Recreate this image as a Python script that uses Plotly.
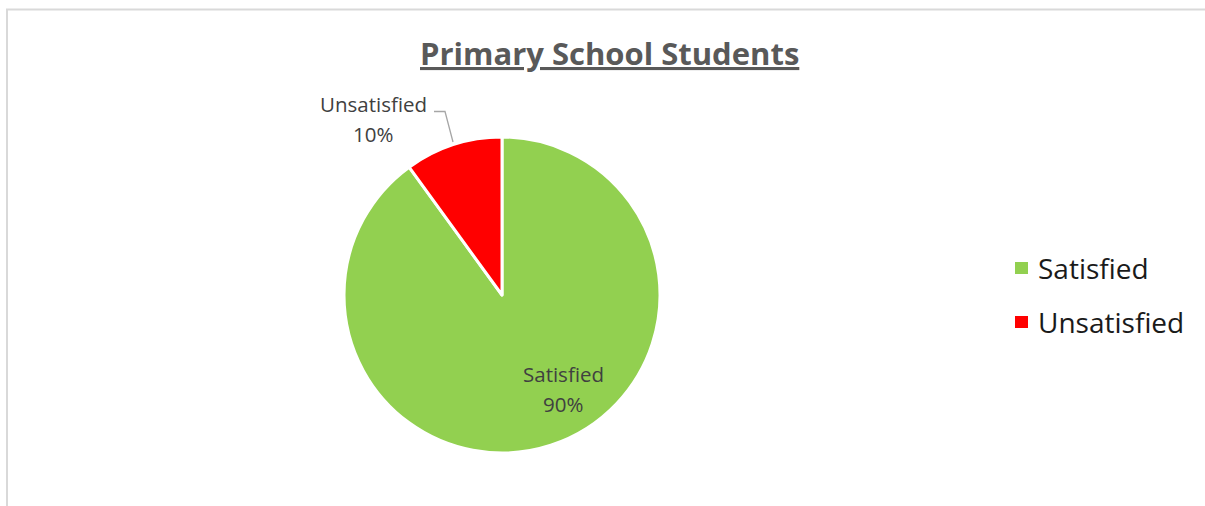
import plotly.graph_objects as go

# Survey results
categories = ["Satisfied", "Unsatisfied"]
values = [90, 10]
colors = ["#92D050", "#FF0000"]
title_text = "Primary School Students"

W, H = 1205, 506


def px(x):
    return x / W


def py(y):
    return 1 - y / H


total = sum(values)
percents = [f"{round(v / total * 100)}%" for v in values]

# Pie geometry (pixels): centre and radius
cx, cy, r = 502, 295, 158

fig = go.Figure(
    go.Pie(
        labels=categories,
        values=values,
        marker=dict(colors=colors, line=dict(color="white", width=3)),
        sort=False,
        direction="clockwise",
        rotation=0,
        textinfo="none",
        hoverinfo="label+percent",
        showlegend=False,
        domain=dict(x=[px(cx - r), px(cx + r)], y=[py(cy + r), py(cy - r)]),
    )
)

font_family = "'Open Sans', Lato, sans-serif"
label_color = "#404040"

annotations = []
shapes = []

# Data labels: name and percentage on separate lines
label_pos = {"Satisfied": (563, 374, 404), "Unsatisfied": (373, 104, 134)}
for cat, pct in zip(categories, percents):
    x, y1, y2 = label_pos[cat]
    annotations.append(dict(x=px(x), y=py(y1), xref="paper", yref="paper", text=cat,
                            showarrow=False, xanchor="center", yanchor="middle",
                            font=dict(family=font_family, size=20.5, color=label_color)))
    annotations.append(dict(x=px(x), y=py(y2), xref="paper", yref="paper", text=pct,
                            showarrow=False, xanchor="center", yanchor="middle",
                            font=dict(family=font_family, size=20.5, color=label_color)))

# Leader line for the outside label
shapes.append(dict(type="path", xref="paper", yref="paper",
                   path=f"M {px(434)} {py(111.5)} L {px(445)} {py(111.5)} L {px(453)} {py(142)}",
                   line=dict(color="#A6A6A6", width=1.3)))

# Legend: square swatch + text
legend_rows = [268, 322]
for cat, col, yc in zip(categories, colors, legend_rows):
    shapes.append(dict(type="rect", xref="paper", yref="paper",
                       x0=px(1015), x1=px(1028), y0=py(yc - 6), y1=py(yc + 6),
                       fillcolor=col, line=dict(width=0)))
    annotations.append(dict(x=px(1036), y=py(yc), xref="paper", yref="paper", text=cat,
                            showarrow=False, xanchor="left", yanchor="middle",
                            font=dict(family=font_family, size=28, color="#1a1a1a")))

# Title
annotations.append(dict(x=px(609), y=py(53), xref="paper", yref="paper",
                        text=f"<b><u>{title_text}</u></b>", showarrow=False,
                        xanchor="center", yanchor="middle",
                        font=dict(family=font_family, size=31, color="#595959")))

# Chart frame
shapes.append(dict(type="path", xref="paper", yref="paper",
                   path=f"M {px(7)} {py(506)} L {px(7)} {py(9.5)} L {px(1205)} {py(9.5)}",
                   line=dict(color="#D9D9D9", width=2)))

fig.update_layout(
    width=W, height=H,
    margin=dict(l=0, r=0, t=0, b=0),
    paper_bgcolor="white",
    plot_bgcolor="white",
    annotations=annotations,
    shapes=shapes,
)

fig.write_html("out.html")
